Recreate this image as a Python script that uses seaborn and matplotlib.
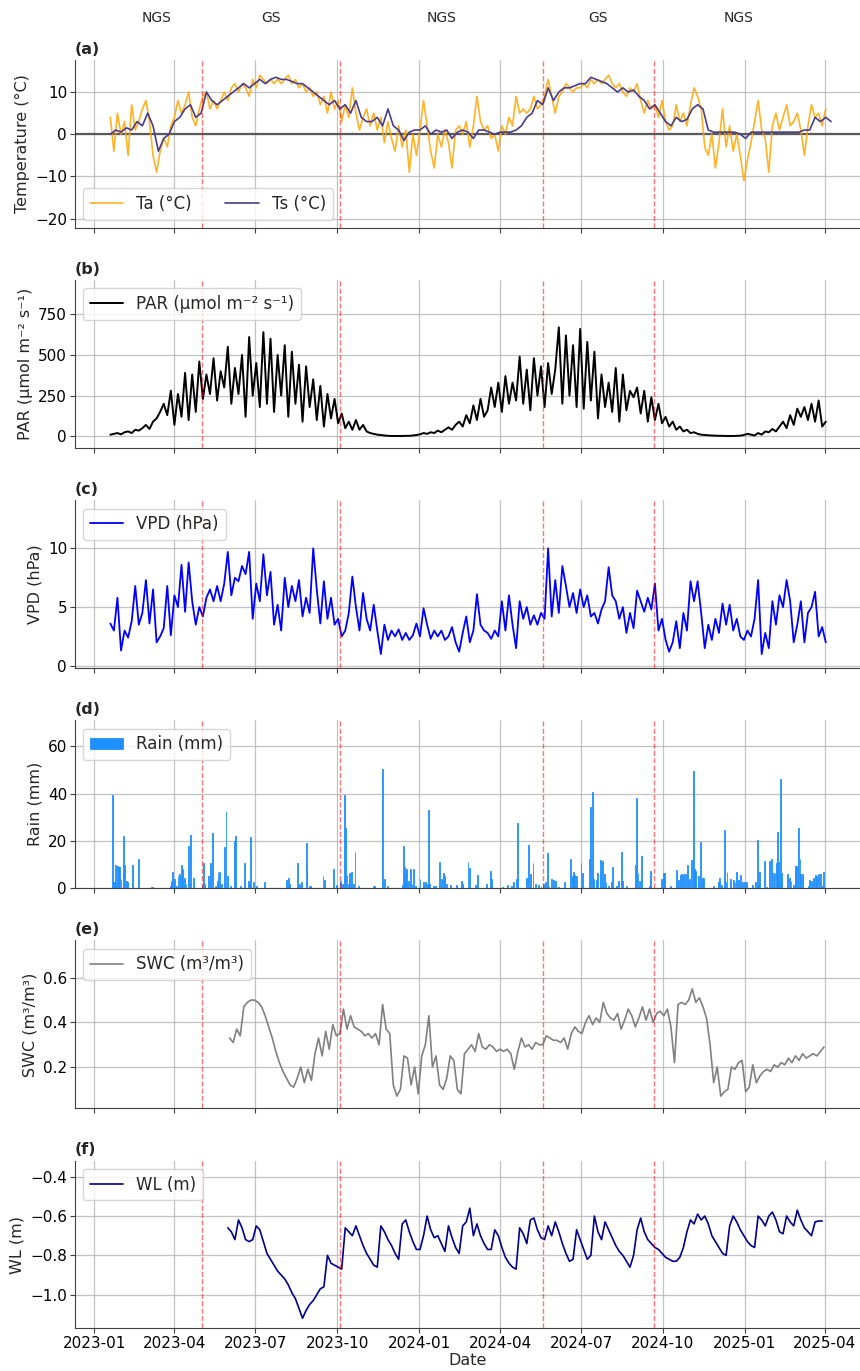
import numpy as np
import pandas as pd
import seaborn as sns
import matplotlib.pyplot as plt
import matplotlib.dates as mdates

# ---------------------------
# Data
# ---------------------------

ORIGIN = pd.Timestamp("2023-01-01")

# Air / soil temperature
ta_start, ta_step = "2023-01-19", 4
ta = [4, -4, 5, 0, 3, -5, 7, 1, 3, 6, 8, 3, -5, -9, -4, -1, -3, 2, 4, 8,
      5, 7, 10, 4, 2, 6, 9, 10, 6, 8, 6, 8, 10, 8, 11, 12, 10, 12, 11, 9,
      13, 11, 14, 13, 12, 13, 12, 13, 12, 13, 14, 12, 13, 11, 12, 10, 11, 9, 10, 7,
      9, 5, 10, 6, 8, 3, 7, 4, 11, 5, 1, 4, 6, 2, 5, 1, 4, -2, 3, -1,
      -4, 2, -3, 1, -9, 0, -5,
      1, 8, 2, -4, -8, 0, -3, 1, -2, -8, 1, 2, 0, 3, -3, 2, 9, 3, 1, 2,
      -1, 0, -4, 2, 0, 4, 2, 9, 5, 6, 5, 6, 9, 6, 7, 9, 13, 9, 5, 9,
      10, 12, 11, 10, 11, 11, 12, 11, 13, 12, 13, 12, 13, 14, 12, 11, 12, 10, 9, 11,
      10, 12, 8, 5, 8, 6, 7, 4, 8, 3, 1, 2, 7, 3, 5, 2, 7, 11, 9, 6,
      -3, -5, 0, -8, -2, 6, -3, 2, -4, 0, -5, -11, -6, -2, 3, 8, 1, -1, -9, 2,
      5, 1, 4, 7, 2, 3, 5, 1, -5, 2, 7, 4, 5, 2, 6]

ts_start, ts_step = "2023-01-19", 6
ts = [0, 1, 0.5, 1.5, 1, 3, 2, 5, 2, -4, -1, 0, 3, 4, 6, 7, 4, 5, 10, 8,
      7, 8, 9, 10, 11, 12, 11, 12, 13, 12, 13, 13.5, 13, 13, 12.5, 12, 12, 11, 10, 9,
      8, 7, 8, 6, 7, 5, 8, 4, 3, 3, 4, 2, 6, 2, 1, -1.5, 0.5, 1, 1, 2,
      0, 1, 0.5, 1, -1, 0.5, 1, 0.5, -1, 1, 1, 0.5, 0, 0.5, 0.5, 0.5, 1, 2, 4, 5,
      8, 7, 11, 8, 10, 11, 11, 11.5, 12, 12, 13.5, 13, 12.5, 12, 11, 10, 11, 10, 10.5, 9,
      8, 6, 7, 5, 3, 2, 4, 3, 3.5, 6, 7, 6, 1, 0.5, 0.5, 0.5, 0.5, 0.5, 0, -1,
      0.5, 0.5, 0.5, 0.5, 0.5, 0.5, 0.5, 0.5, 0.5, 0.5, 1, 1, 4, 3, 4, 3]

# PAR
par_start, par_step = "2023-01-19", 4
par = [10, 15, 20, 12, 25, 30, 20, 40, 35, 50, 70, 45, 90, 110, 150, 200, 130, 280, 70, 260,
       120, 390, 100, 380, 150, 460, 230, 380, 260, 480, 220, 400, 300, 550, 200, 420, 260, 500, 120, 610,
       250, 450, 180, 640, 200, 600, 150, 500, 250, 560, 120, 520, 200, 440, 90, 430, 180, 350, 100, 310,
       60, 260, 110, 230, 80, 140, 50, 90, 40, 100, 40, 70, 30, 20, 15, 10, 8, 5, 3, 2,
       2, 2, 2, 3, 3, 5, 8,
       12, 20, 15, 25, 20, 35, 25, 40, 55, 40, 70, 90, 60, 130, 80, 190, 100, 230, 120, 160,
       300, 180, 330, 150, 370, 200, 330, 220, 490, 200, 410, 160, 480, 250, 430, 180, 450, 260, 410, 670,
       200, 620, 250, 560, 180, 660, 170, 580, 220, 520, 110, 380, 180, 330, 150, 420, 90, 380, 160, 280,
       240, 300, 140, 280, 90, 240, 100, 200, 80, 120, 60, 90, 40, 60, 30, 40, 20, 25, 15, 10,
       8, 6, 5, 4, 3, 3, 2, 2, 2, 3, 4, 8, 15, 10, 5, 20, 10, 30, 25, 45,
       30, 60, 90, 50, 130, 70, 170, 120, 180, 100, 200, 90, 220, 60, 90]

# VPD
vpd_start, vpd_step = "2023-01-19", 4
vpd = [3.6, 3.0, 5.8, 1.3, 3.0, 2.4, 3.8, 6.8, 3.5, 4.5, 7.3, 3.6, 6.5, 2.0, 2.5, 3.2, 6.8, 2.6, 6.0, 5.0,
       8.6, 4.6, 8.8, 5.5, 3.5, 5.0, 4.2, 5.8, 6.5, 5.5, 6.8, 5.5, 7.0, 9.7, 6.0, 7.5, 7.2, 8.5, 7.8, 9.7,
       4.0, 7.0, 5.5, 9.5, 6.0, 8.0, 3.5, 5.2, 3.0, 7.5, 5.0, 6.8, 5.5, 7.3, 4.2, 5.8, 4.5, 10.0, 6.5, 3.6,
       7.2, 4.0, 5.8, 3.5, 4.0, 2.5, 3.0, 4.5, 7.6, 5.0, 3.0, 6.2, 4.0, 3.0, 5.2, 3.0, 1.0, 3.5, 2.2, 3.0,
       2.5, 3.1, 2.2, 2.8, 2.2, 2.6, 3.6,
       2.5, 4.9, 3.5, 2.3, 3.0, 2.5, 3.0, 2.2, 2.5, 3.3, 2.0, 1.2, 2.8, 4.2, 2.0, 3.0, 6.1, 3.5, 3.0, 2.8,
       2.3, 3.0, 2.5, 5.5, 3.0, 6.0, 3.5, 1.5, 5.5, 4.0, 5.0, 3.5, 4.3, 3.5, 4.5, 4.0, 10.0, 4.2, 7.3, 4.5,
       8.5, 6.8, 5.0, 6.2, 4.5, 6.5, 5.0, 6.0, 4.2, 4.5, 3.6, 4.8, 5.5, 8.4, 6.0, 5.5, 4.0, 5.0, 2.8, 4.5,
       3.2, 6.4, 5.5, 4.6, 5.8, 4.8, 7.0, 3.0, 4.0, 2.2, 1.2, 2.0, 3.8, 1.5, 4.5, 3.0, 7.2, 5.5, 7.2, 4.5,
       1.5, 3.5, 2.2, 4.0, 2.8, 5.3, 3.5, 5.2, 3.0, 4.0, 2.5, 2.2, 3.0, 2.5, 4.0, 7.3, 1.0, 2.8, 1.5, 5.5,
       3.5, 6.0, 5.0, 7.3, 5.5, 2.0, 3.5, 5.5, 2.0, 4.5, 5.0, 6.3, 2.5, 3.3, 2.0]

# Rain (day offset from 2023-01-01, mm)
rain_day = [20, 21, 22, 23, 24, 26, 27, 28, 30, 33, 34, 36, 37, 43, 50, 64, 65, 86, 87, 88,
            90, 92, 94, 96, 98, 99, 101, 103, 106, 108, 111, 112, 121, 123, 124, 128, 131, 133, 136, 138,
            139, 141, 143, 146, 148, 150, 153, 158, 159, 164, 169, 173, 174, 176, 179, 182, 191, 216, 218, 219,
            228, 231, 233, 238, 239, 242, 243, 257, 259, 269, 272, 277, 279, 281, 282, 284, 286, 287, 289, 291,
            293, 297, 314, 315, 324, 326, 329, 330, 346, 347, 348, 349, 350, 351, 353, 355, 357, 359, 361,
            366, 370, 372, 374, 376, 377, 381, 383, 388, 390, 392, 394, 396, 400, 407, 413, 414, 420, 422, 428,
            431, 441, 445, 446, 459, 464, 469, 471, 474, 476, 486, 488, 490, 493, 496, 499, 502, 505, 507, 509,
            511, 514, 516, 518, 520, 522, 528, 535, 537, 539, 540, 542, 547, 549, 556, 558, 560, 561, 564, 565,
            569, 571, 573, 575, 578, 581, 582, 587, 589, 592, 594, 598, 608, 609, 611, 613, 615, 624, 625, 637,
            640, 641, 648, 654, 657, 659, 660, 662, 664, 667, 669, 671, 673, 674, 676, 679, 681, 683, 685, 696,
            701, 703, 705, 708, 709, 711, 715, 718, 720, 722, 724, 726, 728, 731, 733, 740, 743, 745, 746, 748,
            753, 755, 759, 761, 763, 765, 767, 768, 769, 771, 772, 779, 781, 783, 786, 788, 789, 791, 793, 794,
            796, 803, 804, 806, 808, 810, 812, 814, 816, 818, 819]
rain_mm = [39.4, 2.5, 2.5, 2.8, 10, 9.5, 9, 9, 4, 22, 10, 3, 2.5, 10, 12.5, 0.5, 0.5, 1, 3, 6.8,
           4, 1, 5, 6, 10, 8, 4.5, 2, 17.8, 22.5, 4.5, 2, 1.5, 10.5, 2, 5, 10.5, 23.5, 1, 3,
           6.8, 6.8, 2, 17.5, 32.5, 5, 1, 20, 22, 1, 10.5, 3, 2, 21.5, 2.5, 1, 2.5, 3.5, 4.5, 2,
           10.5, 2, 2.5, 19, 8.5, 1, 1, 5, 3.5, 8.2, 1.5, 3, 2, 39.5, 25.5, 5.5, 2, 6.5, 7, 2,
           15.5, 1, 1, 1, 50.5, 4, 1, 0.5, 1.5, 18, 4, 9, 6, 8, 3, 8, 2, 8.2, 1,
           4, 2.5, 2.5, 2, 33, 2, 1, 1, 11, 4, 6.5, 5, 2, 1.5, 1.5, 3, 2, 11, 8.5, 1.5,
           5.5, 2, 7.5, 4, 0.5, 1.5, 1, 2.5, 4, 27.5, 4.5, 18.5, 6, 10.5, 2, 1.5, 1, 2, 2.5, 15,
           1, 4, 3.5, 3, 0.5, 0.5, 2.5, 12.5, 5, 7, 5.5, 5, 10.5, 6.5, 12.5, 34.5, 40.5, 4, 3.5, 6.5,
           12, 11.5, 6, 2.5, 1, 2.5, 9, 1, 3, 15.5, 3, 1, 10, 38, 6.5, 3, 13.5, 1, 7.5, 4,
           6.5, 6.5, 1, 7.8, 3.5, 5.5, 6, 6, 6, 10, 4, 12, 49.5, 8, 7.5, 5, 19.5, 4.5, 4.5, 1,
           2.5, 4.5, 1.5, 24.5, 2.5, 7, 4, 3.5, 2.5, 7, 3.5, 5.5, 2.5, 2.5, 2.5, 1.5, 2.5, 20.5, 1.5, 7,
           11.5, 0.5, 11.5, 12.5, 6.5, 6.5, 10.5, 24, 11, 46, 6.5, 6, 4.5, 3, 1.5, 9.5, 9.5, 25.5, 12.5, 6,
           6, 1, 3.5, 3, 4.5, 5.5, 5, 6, 6, 1, 7]

# Soil water content
swc_start, swc_step = "2023-06-02", 4
swc = [0.33, 0.31, 0.37, 0.34, 0.47, 0.49, 0.50, 0.50, 0.49, 0.47, 0.43, 0.38, 0.33, 0.27, 0.22, 0.18, 0.15, 0.12, 0.11, 0.15,
       0.20, 0.13, 0.19, 0.14, 0.26, 0.33, 0.25, 0.36, 0.28, 0.39, 0.34, 0.35, 0.46, 0.37, 0.43, 0.38, 0.37, 0.36, 0.34, 0.35,
       0.33, 0.35, 0.30, 0.48, 0.37, 0.35, 0.12, 0.07, 0.10, 0.25, 0.24, 0.12, 0.20, 0.08, 0.25, 0.30, 0.43, 0.20, 0.25, 0.12,
       0.10, 0.15, 0.25, 0.23, 0.10, 0.08, 0.26, 0.28, 0.30, 0.27, 0.35, 0.29, 0.28, 0.30, 0.29, 0.27, 0.28, 0.27, 0.28, 0.26,
       0.19, 0.27, 0.33, 0.29, 0.30, 0.28, 0.31, 0.30, 0.30, 0.34, 0.33, 0.32, 0.32, 0.31, 0.33, 0.28, 0.35, 0.38, 0.36, 0.35,
       0.40, 0.43, 0.39, 0.42, 0.40, 0.49, 0.44, 0.42, 0.41, 0.44, 0.37, 0.41, 0.46, 0.43, 0.38, 0.42, 0.47, 0.41, 0.46, 0.40,
       0.44, 0.45, 0.43, 0.46, 0.38, 0.22, 0.48, 0.49, 0.48, 0.50, 0.55, 0.49, 0.51, 0.47, 0.42, 0.30, 0.13, 0.20, 0.07, 0.09,
       0.10, 0.20, 0.19, 0.22, 0.23, 0.09, 0.11, 0.21, 0.13, 0.16, 0.18, 0.19, 0.18, 0.21, 0.20, 0.22, 0.21, 0.24, 0.22, 0.25,
       0.23, 0.26, 0.24, 0.25, 0.26, 0.25, 0.27, 0.29]

# Water level
wl_start, wl_step = "2023-05-31", 4
wl = [-0.66, -0.68, -0.72, -0.62, -0.66, -0.72, -0.73, -0.72, -0.65, -0.67, -0.73, -0.79, -0.82, -0.85, -0.88, -0.90,
      -0.92, -0.95, -0.99, -1.02, -1.07, -1.12, -1.08, -1.05, -1.03, -1.00, -0.97, -0.96, -0.80, -0.84, -0.85, -0.86,
      -0.87, -0.66, -0.68, -0.70, -0.65, -0.70, -0.75, -0.79, -0.82, -0.85, -0.86, -0.65, -0.68, -0.72, -0.75, -0.79,
      -0.82, -0.64, -0.62, -0.68, -0.73, -0.77, -0.77, -0.70, -0.60, -0.67, -0.71, -0.70, -0.74, -0.78, -0.65, -0.71,
      -0.76, -0.79, -0.65, -0.63, -0.56, -0.70, -0.64, -0.70, -0.74, -0.77, -0.77, -0.67, -0.70, -0.76, -0.81, -0.84,
      -0.86, -0.87, -0.66, -0.69, -0.74, -0.62, -0.61, -0.67, -0.71, -0.72, -0.65, -0.70, -0.63, -0.68, -0.74, -0.79,
      -0.83, -0.82, -0.67, -0.72, -0.77, -0.82, -0.80, -0.60, -0.68, -0.72, -0.63, -0.67, -0.71, -0.75, -0.78, -0.80,
      -0.83, -0.86, -0.80, -0.67, -0.61, -0.68, -0.72, -0.74, -0.76, -0.77, -0.79, -0.81, -0.82, -0.83, -0.83, -0.81,
      -0.76, -0.68, -0.62, -0.64, -0.59, -0.62, -0.60, -0.64, -0.70, -0.73, -0.76, -0.79, -0.80, -0.65, -0.60, -0.63,
      -0.67, -0.70, -0.73, -0.75, -0.76, -0.60, -0.62, -0.65, -0.60, -0.58, -0.62, -0.68, -0.69, -0.60, -0.63, -0.65,
      -0.57, -0.62, -0.66, -0.68, -0.70, -0.63, -0.625, -0.625]

# Season boundaries (NGS = non-growing season, GS = growing season)
season_bounds = ["2023-01-19", "2023-05-02", "2023-10-04", "2024-05-19", "2024-09-21", "2025-03-31"]
season_names = ["NGS", "GS", "NGS", "GS", "NGS"]


def to_dates(start, step, values):
    return pd.date_range(start, periods=len(values), freq=f"{step}D")


# ---------------------------
# Plot style
# ---------------------------

sns.set_style("ticks")
plt.rcParams["font.family"] = ["DejaVu Sans"]
plt.rcParams["axes.edgecolor"] = "0.25"
plt.rcParams["xtick.color"] = "0.25"
plt.rcParams["ytick.color"] = "0.25"
plt.rcParams["xtick.labelcolor"] = "black"
plt.rcParams["ytick.labelcolor"] = "black"
plt.rcParams["legend.fontsize"] = 12

LABEL_SIZE = 11.5
TICK_SIZE = 11

fig, axes = plt.subplots(6, 1, figsize=(8.6, 13.71), dpi=100, sharex=True)
plt.subplots_adjust(left=0.0869, right=0.9995, top=0.95624, bottom=0.0310, hspace=0.311)

ax_a, ax_b, ax_c, ax_d, ax_e, ax_f = axes

# (a) temperature
ax_a.axhline(0, color="0.35", lw=1.6, zorder=1)
sns.lineplot(x=to_dates(ta_start, ta_step, ta), y=ta, ax=ax_a, color="orange",
             alpha=0.85, lw=1.2, label="Ta (°C)", estimator=None)
sns.lineplot(x=to_dates(ts_start, ts_step, ts), y=ts, ax=ax_a, color="darkslateblue",
             lw=1.2, label="Ts (°C)", estimator=None)
ax_a.set_ylim(-22.2, 17.6)
ax_a.set_ylabel("Temperature (°C)", fontsize=LABEL_SIZE)
ax_a.legend(loc="lower left", ncol=2)

# (b) PAR
sns.lineplot(x=to_dates(par_start, par_step, par), y=par, ax=ax_b, color="black",
             lw=1.4, label="PAR (µmol m⁻² s⁻¹)", estimator=None)
ax_b.set_ylim(-72, 960)
ax_b.set_yticks([0, 250, 500, 750])
ax_b.set_ylabel("PAR (µmol m⁻² s⁻¹)", fontsize=LABEL_SIZE)
ax_b.legend(loc="upper left")

# (c) VPD
sns.lineplot(x=to_dates(vpd_start, vpd_step, vpd), y=vpd, ax=ax_c, color="blue",
             lw=1.3, label="VPD (hPa)", estimator=None)
ax_c.set_ylim(-0.2, 14.1)
ax_c.set_yticks([0, 5, 10])
ax_c.set_ylabel("VPD (hPa)", fontsize=LABEL_SIZE)
ax_c.legend(loc="upper left")

# (d) Rain
rain_dates = ORIGIN + pd.to_timedelta(rain_day, unit="D")
ax_d.bar(rain_dates, rain_mm, width=1.0, color="dodgerblue", edgecolor="dodgerblue",
         linewidth=0.6, label="Rain (mm)", zorder=2)
ax_d.set_ylim(0, 71)
ax_d.set_yticks([0, 20, 40, 60])
ax_d.set_ylabel("Rain (mm)", fontsize=LABEL_SIZE)
ax_d.legend(loc="upper left")

# (e) SWC
sns.lineplot(x=to_dates(swc_start, swc_step, swc), y=swc, ax=ax_e, color="gray",
             lw=1.2, label="SWC (m³/m³)", estimator=None)
ax_e.set_ylim(0.015, 0.767)
ax_e.set_yticks([0.2, 0.4, 0.6])
ax_e.set_ylabel("SWC (m³/m³)", fontsize=LABEL_SIZE)
ax_e.legend(loc="upper left")

# (f) WL
sns.lineplot(x=to_dates(wl_start, wl_step, wl), y=wl, ax=ax_f, color="darkblue",
             lw=1.2, label="WL (m)", estimator=None)
ax_f.set_ylim(-1.172, -0.318)
ax_f.set_yticks([-1.0, -0.8, -0.6, -0.4])
ax_f.set_ylabel("WL (m)", fontsize=LABEL_SIZE)
ax_f.legend(loc="upper left")

# ---------------------------
# Common styling
# ---------------------------

bounds = pd.to_datetime(season_bounds)

for ax, letter in zip(axes, "abcdef"):
    for b in bounds[1:-1]:
        ax.axvline(b, color="red", ls="--", lw=1.0, alpha=0.55, zorder=3)
    ax.grid(True, color="0.7", lw=0.9, alpha=0.8)
    ax.set_axisbelow(True)
    sns.despine(ax=ax)
    ax.tick_params(labelsize=TICK_SIZE, pad=2)
    ax.text(0.0, 1.02, f"({letter})", transform=ax.transAxes, fontsize=11.5,
            fontweight="bold", ha="left", va="bottom")
    ax.set_xlabel("")

ax_f.xaxis.set_major_locator(mdates.MonthLocator(bymonth=[1, 4, 7, 10]))
ax_f.xaxis.set_major_formatter(mdates.DateFormatter("%Y-%m"))
ax_f.set_xlim(pd.Timestamp("2022-12-10"), pd.Timestamp("2025-05-10"))
ax_f.set_xlabel("Date", fontsize=LABEL_SIZE, labelpad=1.5)

# season labels above the first panel
for name, lo, hi in zip(season_names, bounds[:-1], bounds[1:]):
    mid = lo + (hi - lo) / 2
    ax_a.text(mid, 1.25, name, transform=ax_a.get_xaxis_transform(),
              ha="center", va="center", fontsize=10)

fig.savefig("out.png", dpi=100)
